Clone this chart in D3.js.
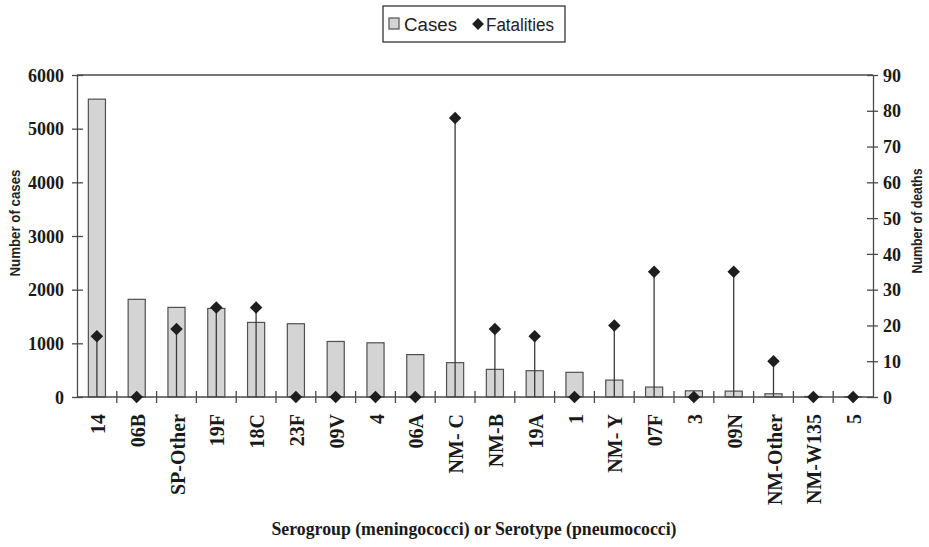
<!DOCTYPE html>
<html>
<head>
<meta charset="utf-8">
<script src="https://cdn.jsdelivr.net/npm/d3@7"></script>
<style>
  html, body { margin: 0; padding: 0; background: #fff; }
  svg { display: block; }
</style>
</head>
<body>
<svg id="chart" width="929" height="547"></svg>
<script>
// Serogroups / serotypes, ordered by case count
const categories = ["14", "06B", "SP-Other", "19F", "18C", "23F", "09V", "4", "06A",
  "NM- C", "NM-B", "19A", "1", "NM- Y", "07F", "3", "09N", "NM-Other", "NM-W135", "5"];
const cases = [5550, 1820, 1670, 1650, 1390, 1365, 1035, 1010, 790,
  640, 515, 490, 460, 315, 185, 115, 110, 60, 10, 5];
const fatalities = [17, 0, 19, 25, 25, 0, 0, 0, 0,
  78, 19, 17, 0, 20, 35, 0, 35, 10, 0, 0];
const caseTicks = [0, 1000, 2000, 3000, 4000, 5000, 6000];
const deathTicks = [0, 10, 20, 30, 40, 50, 60, 70, 80, 90];

const svg = d3.select("#chart");
const plotLeft = 77, plotRight = 873, plotTop = 75, plotBottom = 397;
const axisColor = "#4a4a4a";
const serif = "'Liberation Serif', 'Times New Roman', serif";
const sans = "'Liberation Sans', Arial, sans-serif";

const x = d3.scaleBand().domain(categories).range([plotLeft, plotRight])
  .paddingInner(0.57).paddingOuter(0.285);
const yCases = d3.scaleLinear().domain([0, 6000]).range([plotBottom, plotTop]);
const yDeaths = d3.scaleLinear().domain([0, 90]).range([plotBottom, plotTop]);
const step = (plotRight - plotLeft) / categories.length;

// Plot frame (top edge)
svg.append("line").attr("x1", plotLeft).attr("x2", plotRight).attr("y1", plotTop).attr("y2", plotTop)
  .attr("stroke", axisColor).attr("stroke-width", 1.3);

// Case bars
svg.append("g").selectAll("rect").data(categories).join("rect")
  .attr("x", (d) => x(d))
  .attr("y", (d, i) => yCases(cases[i]))
  .attr("width", x.bandwidth())
  .attr("height", (d, i) => plotBottom - yCases(cases[i]))
  .attr("fill", "#d4d4d4")
  .attr("stroke", "#505050")
  .attr("stroke-width", 1.2);

// Left axis
const leftAxis = d3.axisLeft(yCases).tickValues(caseTicks).tickFormat(d3.format("d"))
  .tickSize(5).tickSizeOuter(0);
const gl = svg.append("g").attr("transform", `translate(${plotLeft},0)`).call(leftAxis);
gl.select(".domain").attr("stroke", axisColor).attr("stroke-width", 1.3);
gl.selectAll(".tick line").attr("x1", -5).attr("x2", 6).attr("stroke", axisColor).attr("stroke-width", 1.3);
gl.selectAll(".tick text").attr("font-family", serif).attr("font-weight", "bold")
  .attr("font-size", 18).attr("fill", "#1a1a1a").attr("x", -13).attr("dy", "0.34em");

// Right axis
const rightAxis = d3.axisRight(yDeaths).tickValues(deathTicks).tickFormat(d3.format("d"))
  .tickSize(5).tickSizeOuter(0);
const gr = svg.append("g").attr("transform", `translate(${plotRight},0)`).call(rightAxis);
gr.select(".domain").attr("stroke", axisColor).attr("stroke-width", 1.3);
gr.selectAll(".tick line").attr("x1", -6).attr("x2", 5).attr("stroke", axisColor).attr("stroke-width", 1.3);
gr.selectAll(".tick text").attr("font-family", serif).attr("font-weight", "bold")
  .attr("font-size", 18).attr("fill", "#1a1a1a").attr("x", 10).attr("dy", "0.34em");

// Bottom axis: baseline, boundary ticks, rotated category labels
svg.append("line").attr("x1", plotLeft).attr("x2", plotRight).attr("y1", plotBottom).attr("y2", plotBottom)
  .attr("stroke", axisColor).attr("stroke-width", 1.3);
svg.append("g").selectAll("line").data(d3.range(1, categories.length)).join("line")
  .attr("x1", (i) => plotLeft + i * step).attr("x2", (i) => plotLeft + i * step)
  .attr("y1", plotBottom - 6).attr("y2", plotBottom + 6)
  .attr("stroke", axisColor).attr("stroke-width", 1.3);
svg.append("g").selectAll("text").data(categories).join("text")
  .attr("transform", (d) => `translate(${x(d) + x.bandwidth() / 2 + 8},${plotBottom + 17}) rotate(-90)`)
  .attr("text-anchor", "end")
  .attr("font-family", serif).attr("font-weight", "bold").attr("font-size", 20)
  .attr("fill", "#1a1a1a")
  .text((d) => d);

// Fatality drop lines and diamonds
const cx = (d) => x(d) + x.bandwidth() / 2;
svg.append("g").selectAll("line").data(categories.filter((d, i) => fatalities[i] > 0)).join("line")
  .attr("x1", cx).attr("x2", cx)
  .attr("y1", (d) => yDeaths(fatalities[categories.indexOf(d)]))
  .attr("y2", plotBottom)
  .attr("stroke", "#3a3a3a").attr("stroke-width", 1.3);
const diamond = d3.symbol().type(d3.symbolSquare).size(78);
svg.append("g").selectAll("path").data(categories).join("path")
  .attr("d", diamond)
  .attr("transform", (d, i) => `translate(${cx(d)},${yDeaths(fatalities[i])}) rotate(45)`)
  .attr("fill", "#1e1e1e");

// Axis titles
svg.append("text")
  .attr("transform", `translate(20,223) rotate(-90)`)
  .attr("text-anchor", "middle").attr("font-family", sans).attr("font-weight", "bold")
  .attr("font-size", 15).attr("fill", "#222")
  .attr("textLength", 107).attr("lengthAdjust", "spacingAndGlyphs")
  .text("Number of cases");
svg.append("text")
  .attr("transform", `translate(922,221) rotate(-90)`)
  .attr("text-anchor", "middle").attr("font-family", sans).attr("font-weight", "bold")
  .attr("font-size", 15).attr("fill", "#222")
  .attr("textLength", 105).attr("lengthAdjust", "spacingAndGlyphs")
  .text("Number of deaths");
svg.append("text")
  .attr("x", 474).attr("y", 535)
  .attr("text-anchor", "middle").attr("font-family", serif).attr("font-weight", "bold")
  .attr("font-size", 18).attr("fill", "#1a1a1a")
  .attr("textLength", 405).attr("lengthAdjust", "spacingAndGlyphs")
  .text("Serogroup (meningococci) or Serotype (pneumococci)");

// Legend
const lg = svg.append("g");
lg.append("rect").attr("x", 383).attr("y", 6).attr("width", 182).attr("height", 36)
  .attr("fill", "#fff").attr("stroke", "#333").attr("stroke-width", 1.3);
lg.append("rect").attr("x", 389).attr("y", 18).attr("width", 10).attr("height", 11)
  .attr("fill", "#d4d4d4").attr("stroke", "#505050").attr("stroke-width", 1.2);
lg.append("text").attr("x", 404).attr("y", 31).attr("font-family", sans)
  .attr("font-size", 18).attr("fill", "#222")
  .attr("textLength", 53).attr("lengthAdjust", "spacingAndGlyphs").text("Cases");
lg.append("path").attr("d", d3.symbol().type(d3.symbolSquare).size(70))
  .attr("transform", "translate(478,24) rotate(45)").attr("fill", "#1e1e1e");
lg.append("text").attr("x", 486).attr("y", 31).attr("font-family", sans)
  .attr("font-size", 18).attr("fill", "#222")
  .attr("textLength", 68).attr("lengthAdjust", "spacingAndGlyphs").text("Fatalities");
</script>
</body>
</html>
